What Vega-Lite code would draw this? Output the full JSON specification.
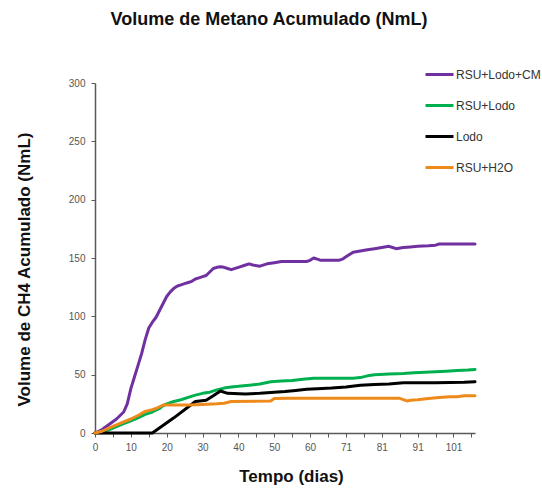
{
  "$schema": "https://vega.github.io/schema/vega-lite/v6.json",
  "width": 380,
  "height": 350,
  "autosize": "none",
  "padding": {"left": 95, "top": 83, "right": 67, "bottom": 55},
  "background": "white",
  "title": {
    "text": "Volume de Metano Acumulado (NmL)",
    "font": "Liberation Sans",
    "fontSize": 18,
    "fontWeight": "bold",
    "color": "#111111",
    "anchor": "middle",
    "frame": "group",
    "dx": -16,
    "offset": 30
  },
  "config": {"view": {"stroke": null}},
  "data": {
    "values": [
      {"serie": "RSU+Lodo+CM", "dia": 0, "volume": 0},
      {"serie": "RSU+Lodo+CM", "dia": 2, "volume": 3},
      {"serie": "RSU+Lodo+CM", "dia": 4, "volume": 7.5},
      {"serie": "RSU+Lodo+CM", "dia": 6, "volume": 12},
      {"serie": "RSU+Lodo+CM", "dia": 8, "volume": 18},
      {"serie": "RSU+Lodo+CM", "dia": 9, "volume": 25},
      {"serie": "RSU+Lodo+CM", "dia": 10, "volume": 38},
      {"serie": "RSU+Lodo+CM", "dia": 11, "volume": 48},
      {"serie": "RSU+Lodo+CM", "dia": 12, "volume": 58},
      {"serie": "RSU+Lodo+CM", "dia": 13, "volume": 68},
      {"serie": "RSU+Lodo+CM", "dia": 14, "volume": 80},
      {"serie": "RSU+Lodo+CM", "dia": 15, "volume": 90},
      {"serie": "RSU+Lodo+CM", "dia": 16, "volume": 95},
      {"serie": "RSU+Lodo+CM", "dia": 17, "volume": 99},
      {"serie": "RSU+Lodo+CM", "dia": 18, "volume": 105},
      {"serie": "RSU+Lodo+CM", "dia": 19, "volume": 111},
      {"serie": "RSU+Lodo+CM", "dia": 20, "volume": 117},
      {"serie": "RSU+Lodo+CM", "dia": 21, "volume": 121},
      {"serie": "RSU+Lodo+CM", "dia": 22, "volume": 124},
      {"serie": "RSU+Lodo+CM", "dia": 23, "volume": 126},
      {"serie": "RSU+Lodo+CM", "dia": 24, "volume": 127},
      {"serie": "RSU+Lodo+CM", "dia": 25, "volume": 128},
      {"serie": "RSU+Lodo+CM", "dia": 26, "volume": 129},
      {"serie": "RSU+Lodo+CM", "dia": 27, "volume": 130},
      {"serie": "RSU+Lodo+CM", "dia": 28, "volume": 132},
      {"serie": "RSU+Lodo+CM", "dia": 29, "volume": 133},
      {"serie": "RSU+Lodo+CM", "dia": 30, "volume": 134},
      {"serie": "RSU+Lodo+CM", "dia": 31, "volume": 135},
      {"serie": "RSU+Lodo+CM", "dia": 32, "volume": 138},
      {"serie": "RSU+Lodo+CM", "dia": 33, "volume": 141},
      {"serie": "RSU+Lodo+CM", "dia": 34, "volume": 142},
      {"serie": "RSU+Lodo+CM", "dia": 35, "volume": 142.5},
      {"serie": "RSU+Lodo+CM", "dia": 36, "volume": 142},
      {"serie": "RSU+Lodo+CM", "dia": 37, "volume": 141},
      {"serie": "RSU+Lodo+CM", "dia": 38, "volume": 140},
      {"serie": "RSU+Lodo+CM", "dia": 40, "volume": 142},
      {"serie": "RSU+Lodo+CM", "dia": 42, "volume": 144},
      {"serie": "RSU+Lodo+CM", "dia": 43, "volume": 145},
      {"serie": "RSU+Lodo+CM", "dia": 44, "volume": 144},
      {"serie": "RSU+Lodo+CM", "dia": 46, "volume": 143},
      {"serie": "RSU+Lodo+CM", "dia": 48, "volume": 145},
      {"serie": "RSU+Lodo+CM", "dia": 50, "volume": 146},
      {"serie": "RSU+Lodo+CM", "dia": 52, "volume": 147},
      {"serie": "RSU+Lodo+CM", "dia": 59, "volume": 147},
      {"serie": "RSU+Lodo+CM", "dia": 60, "volume": 148},
      {"serie": "RSU+Lodo+CM", "dia": 62, "volume": 150},
      {"serie": "RSU+Lodo+CM", "dia": 63, "volume": 149},
      {"serie": "RSU+Lodo+CM", "dia": 64, "volume": 148},
      {"serie": "RSU+Lodo+CM", "dia": 69, "volume": 148},
      {"serie": "RSU+Lodo+CM", "dia": 70, "volume": 149},
      {"serie": "RSU+Lodo+CM", "dia": 71, "volume": 151},
      {"serie": "RSU+Lodo+CM", "dia": 72, "volume": 153},
      {"serie": "RSU+Lodo+CM", "dia": 73, "volume": 155},
      {"serie": "RSU+Lodo+CM", "dia": 75, "volume": 156},
      {"serie": "RSU+Lodo+CM", "dia": 77, "volume": 157},
      {"serie": "RSU+Lodo+CM", "dia": 79, "volume": 158},
      {"serie": "RSU+Lodo+CM", "dia": 81, "volume": 159},
      {"serie": "RSU+Lodo+CM", "dia": 83, "volume": 160},
      {"serie": "RSU+Lodo+CM", "dia": 84, "volume": 159},
      {"serie": "RSU+Lodo+CM", "dia": 85, "volume": 158},
      {"serie": "RSU+Lodo+CM", "dia": 87, "volume": 159},
      {"serie": "RSU+Lodo+CM", "dia": 89, "volume": 159.5},
      {"serie": "RSU+Lodo+CM", "dia": 91, "volume": 160},
      {"serie": "RSU+Lodo+CM", "dia": 94, "volume": 160.5},
      {"serie": "RSU+Lodo+CM", "dia": 96, "volume": 161},
      {"serie": "RSU+Lodo+CM", "dia": 97, "volume": 162},
      {"serie": "RSU+Lodo+CM", "dia": 107, "volume": 162},

      {"serie": "RSU+Lodo", "dia": 0, "volume": 0},
      {"serie": "RSU+Lodo", "dia": 2, "volume": 1},
      {"serie": "RSU+Lodo", "dia": 4, "volume": 3},
      {"serie": "RSU+Lodo", "dia": 6, "volume": 5.5},
      {"serie": "RSU+Lodo", "dia": 8, "volume": 8},
      {"serie": "RSU+Lodo", "dia": 10, "volume": 10.5},
      {"serie": "RSU+Lodo", "dia": 12, "volume": 13},
      {"serie": "RSU+Lodo", "dia": 14, "volume": 16},
      {"serie": "RSU+Lodo", "dia": 16, "volume": 18},
      {"serie": "RSU+Lodo", "dia": 17, "volume": 19.5},
      {"serie": "RSU+Lodo", "dia": 18, "volume": 21},
      {"serie": "RSU+Lodo", "dia": 19, "volume": 23.5},
      {"serie": "RSU+Lodo", "dia": 20, "volume": 25},
      {"serie": "RSU+Lodo", "dia": 22, "volume": 27},
      {"serie": "RSU+Lodo", "dia": 24, "volume": 28.5},
      {"serie": "RSU+Lodo", "dia": 26, "volume": 30.5},
      {"serie": "RSU+Lodo", "dia": 28, "volume": 32.5},
      {"serie": "RSU+Lodo", "dia": 30, "volume": 34},
      {"serie": "RSU+Lodo", "dia": 32, "volume": 35},
      {"serie": "RSU+Lodo", "dia": 34, "volume": 37},
      {"serie": "RSU+Lodo", "dia": 36, "volume": 38.5},
      {"serie": "RSU+Lodo", "dia": 38, "volume": 39.5},
      {"serie": "RSU+Lodo", "dia": 40, "volume": 40},
      {"serie": "RSU+Lodo", "dia": 43, "volume": 41},
      {"serie": "RSU+Lodo", "dia": 46, "volume": 42},
      {"serie": "RSU+Lodo", "dia": 49, "volume": 44},
      {"serie": "RSU+Lodo", "dia": 52, "volume": 44.5},
      {"serie": "RSU+Lodo", "dia": 55, "volume": 45},
      {"serie": "RSU+Lodo", "dia": 58, "volume": 46},
      {"serie": "RSU+Lodo", "dia": 62, "volume": 47},
      {"serie": "RSU+Lodo", "dia": 69, "volume": 47},
      {"serie": "RSU+Lodo", "dia": 73, "volume": 47},
      {"serie": "RSU+Lodo", "dia": 75, "volume": 47.5},
      {"serie": "RSU+Lodo", "dia": 77, "volume": 49},
      {"serie": "RSU+Lodo", "dia": 79, "volume": 50},
      {"serie": "RSU+Lodo", "dia": 83, "volume": 50.5},
      {"serie": "RSU+Lodo", "dia": 87, "volume": 51},
      {"serie": "RSU+Lodo", "dia": 90, "volume": 51.7},
      {"serie": "RSU+Lodo", "dia": 93, "volume": 52},
      {"serie": "RSU+Lodo", "dia": 96, "volume": 52.5},
      {"serie": "RSU+Lodo", "dia": 99, "volume": 53},
      {"serie": "RSU+Lodo", "dia": 102, "volume": 53.5},
      {"serie": "RSU+Lodo", "dia": 105, "volume": 54},
      {"serie": "RSU+Lodo", "dia": 107, "volume": 54.5},

      {"serie": "Lodo", "dia": 0, "volume": 0},
      {"serie": "Lodo", "dia": 16, "volume": 0},
      {"serie": "Lodo", "dia": 22, "volume": 13},
      {"serie": "Lodo", "dia": 28, "volume": 27},
      {"serie": "Lodo", "dia": 31, "volume": 28},
      {"serie": "Lodo", "dia": 33, "volume": 32},
      {"serie": "Lodo", "dia": 35, "volume": 36},
      {"serie": "Lodo", "dia": 37, "volume": 34},
      {"serie": "Lodo", "dia": 42, "volume": 33.5},
      {"serie": "Lodo", "dia": 46, "volume": 34},
      {"serie": "Lodo", "dia": 50, "volume": 35},
      {"serie": "Lodo", "dia": 53, "volume": 35.5},
      {"serie": "Lodo", "dia": 56, "volume": 36.5},
      {"serie": "Lodo", "dia": 59, "volume": 37.5},
      {"serie": "Lodo", "dia": 63, "volume": 38},
      {"serie": "Lodo", "dia": 67, "volume": 38.5},
      {"serie": "Lodo", "dia": 71, "volume": 39.5},
      {"serie": "Lodo", "dia": 75, "volume": 41},
      {"serie": "Lodo", "dia": 79, "volume": 41.5},
      {"serie": "Lodo", "dia": 83, "volume": 42},
      {"serie": "Lodo", "dia": 87, "volume": 43},
      {"serie": "Lodo", "dia": 96, "volume": 43},
      {"serie": "Lodo", "dia": 104, "volume": 43.5},
      {"serie": "Lodo", "dia": 107, "volume": 44},

      {"serie": "RSU+H2O", "dia": 0, "volume": 0},
      {"serie": "RSU+H2O", "dia": 2, "volume": 1.5},
      {"serie": "RSU+H2O", "dia": 4, "volume": 4.3},
      {"serie": "RSU+H2O", "dia": 6, "volume": 7},
      {"serie": "RSU+H2O", "dia": 8, "volume": 9.5},
      {"serie": "RSU+H2O", "dia": 10, "volume": 12},
      {"serie": "RSU+H2O", "dia": 12, "volume": 15},
      {"serie": "RSU+H2O", "dia": 14, "volume": 18.5},
      {"serie": "RSU+H2O", "dia": 16, "volume": 20},
      {"serie": "RSU+H2O", "dia": 17, "volume": 21},
      {"serie": "RSU+H2O", "dia": 18, "volume": 22.5},
      {"serie": "RSU+H2O", "dia": 19, "volume": 24},
      {"serie": "RSU+H2O", "dia": 26, "volume": 24},
      {"serie": "RSU+H2O", "dia": 30, "volume": 24.5},
      {"serie": "RSU+H2O", "dia": 34, "volume": 25},
      {"serie": "RSU+H2O", "dia": 36, "volume": 25.5},
      {"serie": "RSU+H2O", "dia": 38, "volume": 27},
      {"serie": "RSU+H2O", "dia": 49, "volume": 27.5},
      {"serie": "RSU+H2O", "dia": 50, "volume": 29.5},
      {"serie": "RSU+H2O", "dia": 54, "volume": 29.7},
      {"serie": "RSU+H2O", "dia": 86, "volume": 29.7},
      {"serie": "RSU+H2O", "dia": 88, "volume": 27.5},
      {"serie": "RSU+H2O", "dia": 89, "volume": 28},
      {"serie": "RSU+H2O", "dia": 91, "volume": 28.5},
      {"serie": "RSU+H2O", "dia": 94, "volume": 29.5},
      {"serie": "RSU+H2O", "dia": 97, "volume": 30.5},
      {"serie": "RSU+H2O", "dia": 100, "volume": 31},
      {"serie": "RSU+H2O", "dia": 102, "volume": 31},
      {"serie": "RSU+H2O", "dia": 104, "volume": 32},
      {"serie": "RSU+H2O", "dia": 107, "volume": 32}
    ]
  },
  "mark": {"type": "line", "strokeWidth": 3, "strokeJoin": "round", "strokeCap": "round"},
  "encoding": {
    "x": {
      "field": "dia",
      "type": "ordinal",
      "scale": {
        "type": "point",
        "padding": 0,
        "domain": [0,1,2,3,4,5,6,7,8,9,10,11,12,13,14,15,16,17,18,19,20,21,22,23,24,25,26,27,28,29,30,31,32,33,34,35,36,37,38,39,40,41,42,43,44,45,46,47,48,49,50,51,52,53,54,55,56,57,58,59,60,62,63,64,65,66,67,68,69,70,71,72,73,74,75,76,77,78,79,80,81,82,83,84,85,86,87,88,89,90,91,92,93,94,95,96,97,98,99,100,101,102,103,104,105,106,107]
      },
      "axis": {
        "title": "Tempo (dias)",
        "titleFont": "Liberation Sans",
        "titleFontSize": 17,
        "titleFontWeight": "bold",
        "titleColor": "#111111",
        "titleX": 196,
        "titleY": 43,
        "titleBaseline": "middle",
        "values": [0,5,10,15,20,25,30,35,40,45,50,55,60,66,71,76,81,86,91,96,101,106],
        "labelExpr": "indexof([0,10,20,30,40,50,60,71,81,91,101], datum.value) >= 0 ? datum.label : ''",
        "labelAngle": 0,
        "labelOverlap": false,
        "labelFont": "Liberation Sans",
        "labelFontSize": 10,
        "labelColor": "#555555",
        "labelPadding": 5,
        "domainColor": "#595959",
        "domainWidth": 1.5,
        "tickColor": "#595959",
        "tickSize": 4,
        "grid": false
      }
    },
    "y": {
      "field": "volume",
      "type": "quantitative",
      "scale": {"domain": [0, 300], "nice": false},
      "axis": {
        "title": "Volume de CH4 Acumulado (NmL)",
        "titleFont": "Liberation Sans",
        "titleFontSize": 17,
        "titleFontWeight": "bold",
        "titleColor": "#111111",
        "titleX": -71,
        "titleY": 186,
        "titleAngle": 270,
        "titleAlign": "center",
        "titleBaseline": "middle",
        "values": [0, 50, 100, 150, 200, 250, 300],
        "labelFont": "Liberation Sans",
        "labelFontSize": 10,
        "labelColor": "#555555",
        "labelPadding": 6,
        "domainColor": "#595959",
        "domainWidth": 1.5,
        "tickColor": "#595959",
        "tickSize": 4,
        "grid": false
      }
    },
    "color": {
      "field": "serie",
      "type": "nominal",
      "scale": {
        "domain": ["RSU+Lodo+CM", "RSU+Lodo", "Lodo", "RSU+H2O"],
        "range": ["#7030A0", "#00B050", "#000000", "#EE8A1C"]
      },
      "legend": {
        "title": null,
        "orient": "none",
        "legendX": 329,
        "legendY": -24,
        "symbolType": "stroke",
        "symbolSize": 784,
        "symbolStrokeWidth": 3,
        "labelFont": "Liberation Sans",
        "labelFontSize": 12,
        "labelColor": "#333333",
        "labelOffset": 1,
        "rowPadding": 9
      }
    }
  }
}
